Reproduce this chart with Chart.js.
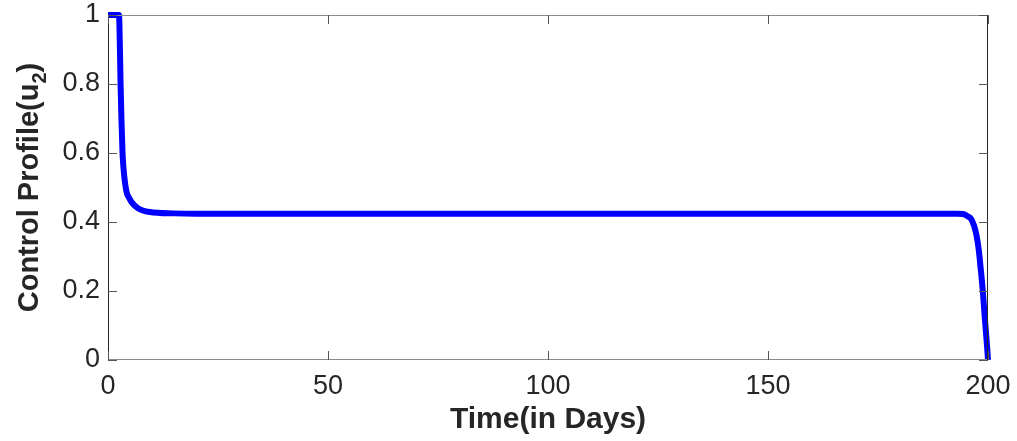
<!DOCTYPE html>
<html>
<head>
	<title>Control Profile u2</title>
	<script src="https://cdn.jsdelivr.net/npm/chart.js@4.4.0/dist/chart.umd.min.js"></script>
	<style>
		html, body { margin: 0; padding: 0; background: #fff; }
		#wrap { width: 1017px; height: 441px; }
	</style>
</head>
<body>
	<div id="wrap"><canvas id="myChart"></canvas></div>
	<script>
		// values
		const timeDays = [0, 1, 2, 2.5, 2.6, 2.86, 3.05, 3.3, 3.6, 4.2, 4.8, 5.4, 6.8, 9.5, 15, 20, 30, 40, 50, 60, 70, 80, 90, 100,
			110, 120, 130, 140, 150, 160, 170, 180, 190, 193, 194.4, 195.3, 196.3, 197.3, 197.9, 198.3, 198.8, 199.25, 199.85, 200];
		const u2 = [1, 1, 1, 1, 0.97, 0.8, 0.7, 0.6, 0.545, 0.488, 0.47, 0.457, 0.44, 0.429, 0.425, 0.424, 0.424, 0.424, 0.424, 0.424, 0.424, 0.424, 0.424, 0.424,
			0.424, 0.424, 0.424, 0.424, 0.424, 0.424, 0.424, 0.424, 0.424, 0.424, 0.423, 0.417, 0.406, 0.367, 0.319, 0.27, 0.203, 0.126, 0.029, 0];
		const xTicks = [0, 50, 100, 150, 200];
		const yTicks = [0, 0.2, 0.4, 0.6, 0.8, 1];

		const TEXT = "#262626";
		const FONT = "'Liberation Sans', Arial, Helvetica, sans-serif";

		const matlabBox = {
			id: "matlabBox",
			afterDraw(chart) {
				const { ctx, chartArea: a, scales } = chart;
				ctx.save();
				// box
				ctx.lineWidth = 1;
				ctx.strokeStyle = "#8c8c8c";
				ctx.beginPath();
				ctx.moveTo(a.left, a.top + 0.5); ctx.lineTo(a.right, a.top + 0.5);
				ctx.moveTo(a.left, a.bottom - 0.5); ctx.lineTo(a.right, a.bottom - 0.5);
				ctx.stroke();
				ctx.strokeStyle = TEXT;
				ctx.beginPath();
				ctx.moveTo(a.left + 0.5, a.top); ctx.lineTo(a.left + 0.5, a.bottom);
				ctx.moveTo(a.right - 0.5, a.top); ctx.lineTo(a.right - 0.5, a.bottom);
				ctx.stroke();
				// inward ticks
				ctx.strokeStyle = "#555";
				ctx.beginPath();
				yTicks.forEach(v => {
					const y = Math.round(scales.y.getPixelForValue(v)) + 0.5;
					ctx.moveTo(a.left, y); ctx.lineTo(a.left + 9, y);
					ctx.moveTo(a.right, y); ctx.lineTo(a.right - 9, y);
				});
				xTicks.forEach(v => {
					const x = Math.round(scales.x.getPixelForValue(v)) + 0.5;
					ctx.moveTo(x, a.bottom); ctx.lineTo(x, a.bottom - 9);
					ctx.moveTo(x, a.top); ctx.lineTo(x, a.top + 9);
				});
				ctx.stroke();

				// axis titles
				ctx.fillStyle = TEXT;
				ctx.font = "bold 30px " + FONT;
				ctx.textAlign = "center";
				ctx.textBaseline = "alphabetic";
				ctx.fillText("Time(in Days)", (a.left + a.right) / 2, 428);

				// y title with subscript
				const main = "Control Profile(u";
				const sub = "2";
				const close = ")";
				const big = "bold 29px " + FONT;
				const small = "bold 20px " + FONT;
				ctx.font = big;
				const w1 = ctx.measureText(main).width;
				const w3 = ctx.measureText(close).width;
				ctx.font = small;
				const w2 = ctx.measureText(sub).width;
				const total = w1 + w2 + w3;
				ctx.translate(38, (a.top + a.bottom) / 2);
				ctx.rotate(-Math.PI / 2);
				ctx.textAlign = "left";
				let x0 = -total / 2;
				ctx.font = big;
				ctx.fillText(main, x0, 0);
				ctx.font = small;
				ctx.fillText(sub, x0 + w1, 8);
				ctx.font = big;
				ctx.fillText(close, x0 + w1 + w2, 0);
				ctx.restore();
			}
		};

		new Chart("myChart", {
			type: "line",
			data: {
				datasets: [{
					data: timeDays.map((t, i) => ({ x: t, y: u2[i] })),
					borderColor: "#0000ff",
					borderWidth: 6,
					pointRadius: 0,
					cubicInterpolationMode: "monotone",
					clip: false
				}]
			},
			options: {
				responsive: true,
				maintainAspectRatio: false,
				animation: false,
				layout: { padding: { left: 0, top: 15, right: 29, bottom: 0 } },
				plugins: { legend: { display: false }, tooltip: { enabled: false } },
				scales: {
					x: {
						type: "linear",
						min: 0, max: 200,
						afterBuildTicks: s => { s.ticks = xTicks.map(v => ({ value: v })); },
						afterFit: s => { s.height = 81; s.paddingLeft = 0; s.paddingRight = 0; },
						grid: { display: false, drawTicks: false },
						border: { display: false },
						ticks: { color: TEXT, font: { family: FONT, size: 27 }, padding: 10, maxRotation: 0 }
					},
					y: {
						min: 0, max: 1,
						afterBuildTicks: s => { s.ticks = yTicks.map(v => ({ value: v })); },
						afterFit: s => { s.width = 108; s.paddingTop = 0; s.paddingBottom = 0; },
						grid: { display: false, drawTicks: false },
						border: { display: false },
						ticks: {
							color: TEXT, font: { family: FONT, size: 27 }, padding: 8,
							callback: v => String(+v.toFixed(1))
						}
					}
				}
			},
			plugins: [matlabBox]
		});
	</script>
</body>
</html>
